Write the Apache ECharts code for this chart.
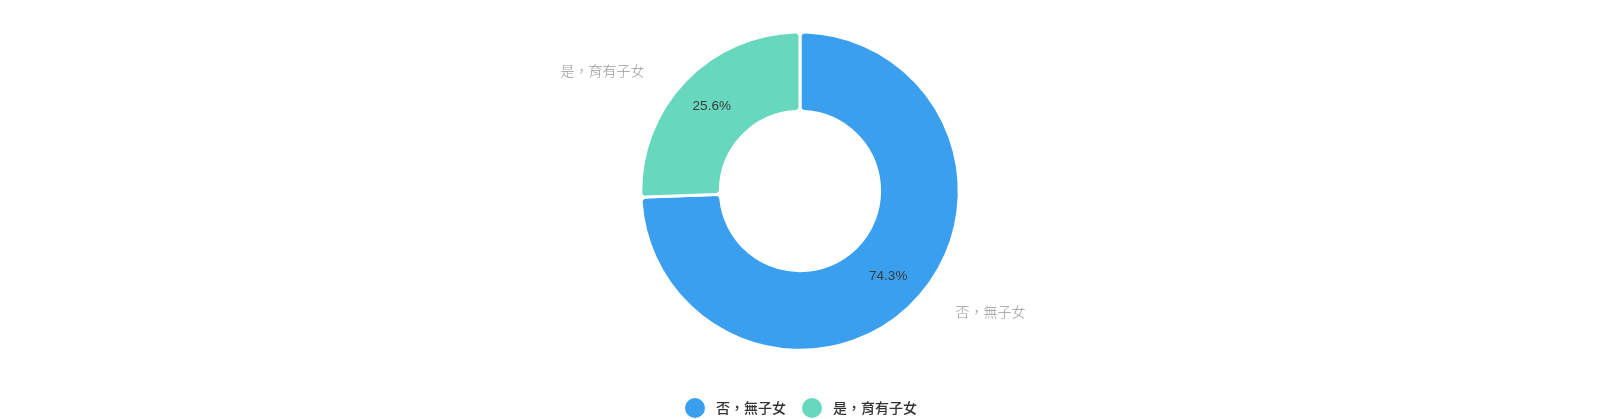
<!DOCTYPE html>
<html>
<head>
<meta charset="utf-8">
<script src="https://cdn.jsdelivr.net/npm/echarts@6/dist/echarts.min.js"></script>
<style>
  html, body { margin: 0; padding: 0; background: #fff; }
  #chart { width: 1600px; height: 419px; }
</style>
</head>
<body>
<div id="chart"></div>
<script>
const categories = ['否，無子女', '是，育有子女'];
const values = [74.3, 25.6];
const colors = ['#3A9FEE', '#67D7BD'];

const chart = echarts.init(document.getElementById('chart'), null, { renderer: 'canvas' });

const data = categories.map((name, i) => ({
  name: name,
  value: values[i],
  itemStyle: { color: colors[i] }
}));

const cjk = '"Noto Sans CJK TC", "Noto Sans", sans-serif';

chart.setOption({
  animation: false,
  legend: {
    data: categories,
    top: 391,
    left: 'center',
    icon: 'circle',
    itemWidth: 22,
    itemHeight: 22,
    itemGap: 14,
    textStyle: { fontSize: 14, color: '#333', fontFamily: cjk, fontWeight: 500, padding: [0, 0, 0, 5] }
  },
  series: [
    {
      type: 'pie',
      center: ['50%', '45.6%'],
      radius: ['38%', '76%'],
      startAngle: 90,
      clockwise: true,
      avoidLabelOverlap: false,
      itemStyle: { borderColor: '#fff', borderWidth: 3, borderRadius: 5 },
      label: {
        show: true,
        position: 'outside',
        formatter: '{b}',
        fontSize: 14,
        color: '#999',
        fontFamily: cjk,
        fontWeight: 300
      },
      labelLine: { show: false, length: 15, length2: 25 },
      data: data
    },
    {
      type: 'pie',
      center: ['50%', '45.6%'],
      radius: ['38%', '76%'],
      startAngle: 90,
      clockwise: true,
      silent: true,
      legendHoverLink: false,
      itemStyle: { color: 'transparent', borderWidth: 0 },
      label: {
        show: true,
        position: 'inside',
        formatter: '{c}%',
        fontSize: 13.5,
        color: '#3a3a3a',
        fontFamily: '"Liberation Sans", Arial, sans-serif'
      },
      labelLine: { show: false },
      data: categories.map((name, i) => ({ name: name, value: values[i] }))
    }
  ]
});
</script>
</body>
</html>
